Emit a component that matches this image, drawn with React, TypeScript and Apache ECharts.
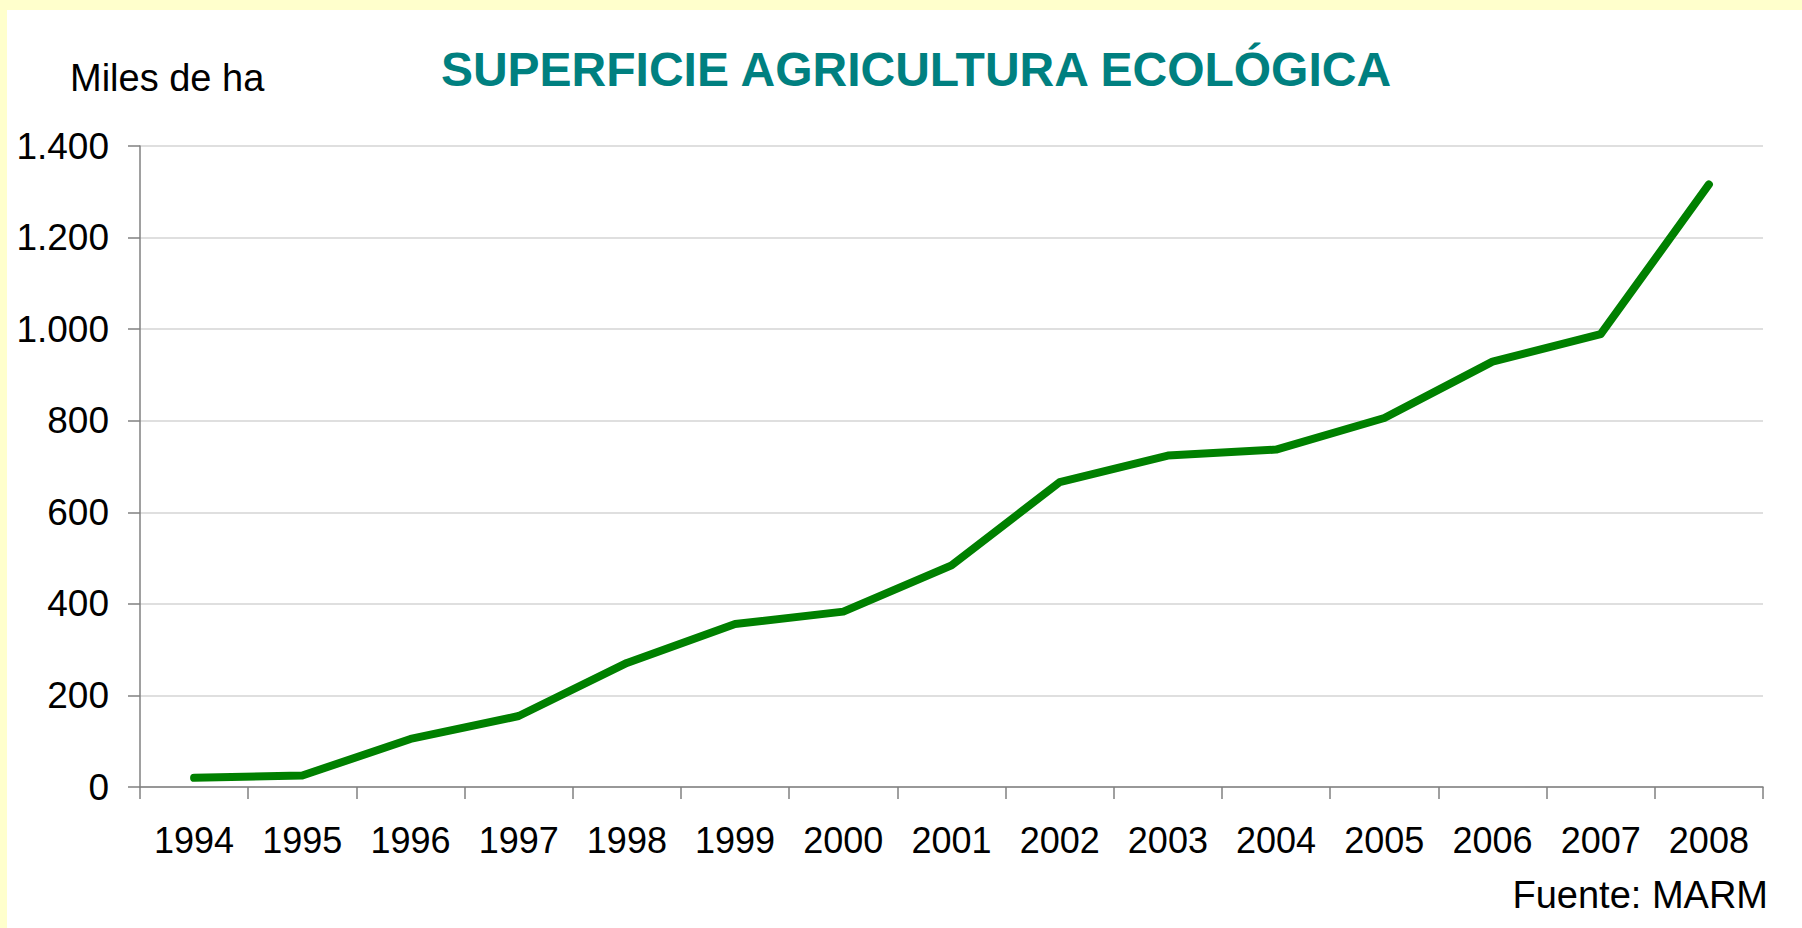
import React, { useEffect, useRef } from "react";
import * as echarts from "echarts";

const years = ["1994", "1995", "1996", "1997", "1998", "1999", "2000", "2001", "2002", "2003", "2004", "2005", "2006", "2007", "2008"];
const surface = [20, 25, 105, 155, 271, 356, 383, 484, 666, 724, 737, 806, 929, 989, 1316];
const titleText = "SUPERFICIE AGRICULTURA ECOLÓGICA";
const unitText = "Miles de ha";
const sourceText = "Fuente: MARM";

const FONT = "'Liberation Sans', Arial, Helvetica, sans-serif";

function fmt(v: number): string {
  return String(v).replace(/\B(?=(\d{3})+(?!\d))/g, ".");
}

export default function App() {
  const ref = useRef<HTMLDivElement>(null);
  useEffect(() => {
    document.body.style.margin = "0";
    if (!ref.current) return;
    const chart = echarts.init(ref.current, undefined, { renderer: "svg" });
    chart.setOption({
      animation: false,
      grid: { left: 140, right: 39, top: 146, bottom: 141, containLabel: false },
      graphic: [
        {
          type: "text",
          x: 916,
          y: 69,
          style: {
            text: titleText,
            fill: "#008080",
            font: `bold 48px ${FONT}`,
            align: "center",
            verticalAlign: "middle",
          },
        },
        {
          type: "text",
          x: 70,
          y: 78,
          style: {
            text: unitText,
            fill: "#000000",
            font: `38px ${FONT}`,
            align: "left",
            verticalAlign: "middle",
          },
        },
        {
          type: "text",
          x: 1768,
          y: 895,
          style: {
            text: sourceText,
            fill: "#000000",
            font: `38px ${FONT}`,
            align: "right",
            verticalAlign: "middle",
          },
        },
      ],
      xAxis: {
        type: "category",
        data: years,
        boundaryGap: true,
        axisLine: { show: true, lineStyle: { color: "#808080", width: 1.5 } },
        axisTick: { show: true, length: 12, alignWithLabel: false, lineStyle: { color: "#808080", width: 1.5 } },
        axisLabel: { color: "#000000", fontSize: 36, fontFamily: FONT, margin: 35, interval: 0 },
        splitLine: { show: false },
      },
      yAxis: {
        type: "value",
        min: 0,
        max: 1400,
        interval: 200,
        axisLine: { show: true, lineStyle: { color: "#808080", width: 1.5 } },
        axisTick: { show: true, length: 12, lineStyle: { color: "#808080", width: 1.5 } },
        axisLabel: {
          color: "#000000",
          fontSize: 37,
          fontFamily: FONT,
          margin: 31,
          formatter: (v: number) => fmt(v),
        },
        splitLine: { show: true, lineStyle: { color: "#d4d4d4", width: 1.5 } },
      },
      series: [
        {
          type: "line",
          data: surface,
          symbol: "none",
          lineStyle: { color: "#008000", width: 8, cap: "round", join: "round" },
        },
      ],
    });
    return () => chart.dispose();
  }, []);

  return (
    <div style={{ position: "relative", width: 1802, height: 928, background: "#ffffcc", overflow: "hidden" }}>
      <div style={{ position: "absolute", left: 7, top: 10, right: 0, bottom: 0, background: "#ffffff" }} />
      <div ref={ref} style={{ position: "absolute", left: 0, top: 0, width: 1802, height: 928 }} />
    </div>
  );
}
